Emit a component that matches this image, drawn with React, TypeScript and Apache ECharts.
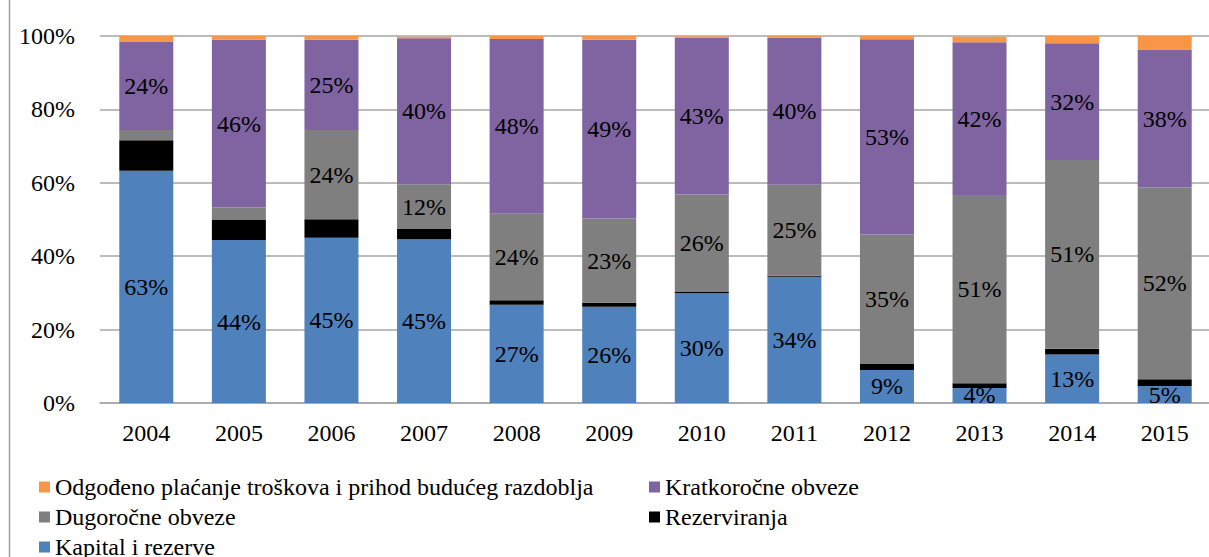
import React, { useEffect, useRef } from "react";
import * as echarts from "echarts";

const years = ["2004", "2005", "2006", "2007", "2008", "2009", "2010", "2011", "2012", "2013", "2014", "2015"];
const kapital = [63.3, 44.4, 45.0, 44.6, 26.8, 26.2, 29.9, 34.4, 9.0, 4.1, 13.2, 4.6];
const rezerviranja = [8.3, 5.6, 5.1, 2.8, 1.2, 1.1, 0.5, 0.3, 1.6, 1.3, 1.6, 1.9];
const dugorocne = [2.8, 3.3, 24.3, 12.2, 23.6, 23.0, 26.4, 24.8, 35.3, 51.3, 51.4, 52.2];
const kratkorocne = [24.1, 45.7, 24.6, 39.8, 47.6, 48.7, 42.8, 40.0, 53.2, 41.6, 31.8, 37.6];
const odgodeno = [1.5, 1.0, 1.0, 0.4, 1.0, 1.0, 0.3, 0.5, 1.0, 1.5, 2.2, 3.8];
const yTicks = [0, 20, 40, 60, 80, 100];

const names = {
  odg: "Odgođeno plaćanje troškova i prihod budućeg razdoblja",
  kratko: "Kratkoročne obveze",
  dugo: "Dugoročne obveze",
  rez: "Rezerviranja",
  kap: "Kapital i rezerve",
};

const FONT = "'Liberation Serif', 'Times New Roman', serif";

export default function App() {
  const ref = useRef<HTMLDivElement>(null);
  useEffect(() => {
    if (!ref.current) return;
    const chart = echarts.init(ref.current, null, { renderer: "svg" });
    const lbl = (minShow: number) => ({
      show: true,
      position: "inside",
      color: "#000",
      fontFamily: FONT,
      fontSize: 24,
      formatter: (p: any) => (p.value >= minShow ? Math.round(p.value) + "%" : ""),
    });
    const legendBase = {
      icon: "rect",
      itemWidth: 11,
      itemHeight: 11,
      padding: 0,
      selectedMode: false,
      textStyle: { color: "#000", fontFamily: FONT, fontSize: 24 },
    };
    chart.setOption({
      animation: false,
      backgroundColor: "#fff",
      grid: { left: 100, right: -2, top: 36, bottom: 154, outerBoundsMode: "none" },
      xAxis: {
        type: "category",
        data: years,
        axisLine: { lineStyle: { color: "#a6a6a6", width: 1.5 } },
        axisTick: { show: false },
        axisLabel: { color: "#000", fontFamily: FONT, fontSize: 24, margin: 18 },
      },
      yAxis: {
        type: "value",
        min: yTicks[0],
        max: yTicks[yTicks.length - 1],
        interval: 20,
        axisLine: { show: false },
        axisTick: { show: false },
        splitLine: { lineStyle: { color: "#a6a6a6", width: 1.5 } },
        axisLabel: { color: "#000", fontFamily: FONT, fontSize: 24, margin: 25, formatter: "{value}%" },
      },
      legend: [
        { ...legendBase, data: [names.odg], left: 39, top: 475 },
        { ...legendBase, data: [names.kratko], left: 649, top: 475 },
        { ...legendBase, data: [names.dugo], left: 39, top: 505 },
        { ...legendBase, data: [names.rez], left: 649, top: 505 },
        { ...legendBase, data: [names.kap], left: 39, top: 535 },
      ],
      graphic: [
        { type: "line", shape: { x1: 9.5, y1: 0, x2: 9.5, y2: 557 }, style: { stroke: "#a0a0a0", lineWidth: 1.5 } },
      ],
      series: [
        { name: names.kap, type: "bar", stack: "s", barWidth: 54, data: kapital, itemStyle: { color: "#4F81BD" }, label: lbl(0) },
        { name: names.rez, type: "bar", stack: "s", barWidth: 54, data: rezerviranja, itemStyle: { color: "#000000" } },
        { name: names.dugo, type: "bar", stack: "s", barWidth: 54, data: dugorocne, itemStyle: { color: "#7F7F7F" }, label: lbl(10) },
        { name: names.kratko, type: "bar", stack: "s", barWidth: 54, data: kratkorocne, itemStyle: { color: "#8064A2" }, label: lbl(0) },
        { name: names.odg, type: "bar", stack: "s", barWidth: 54, data: odgodeno, itemStyle: { color: "#F79646" } },
      ],
    });
    return () => chart.dispose();
  }, []);
  return <div ref={ref} style={{ position: "fixed", left: 0, top: 0, width: 1209, height: 557 }} />;
}
